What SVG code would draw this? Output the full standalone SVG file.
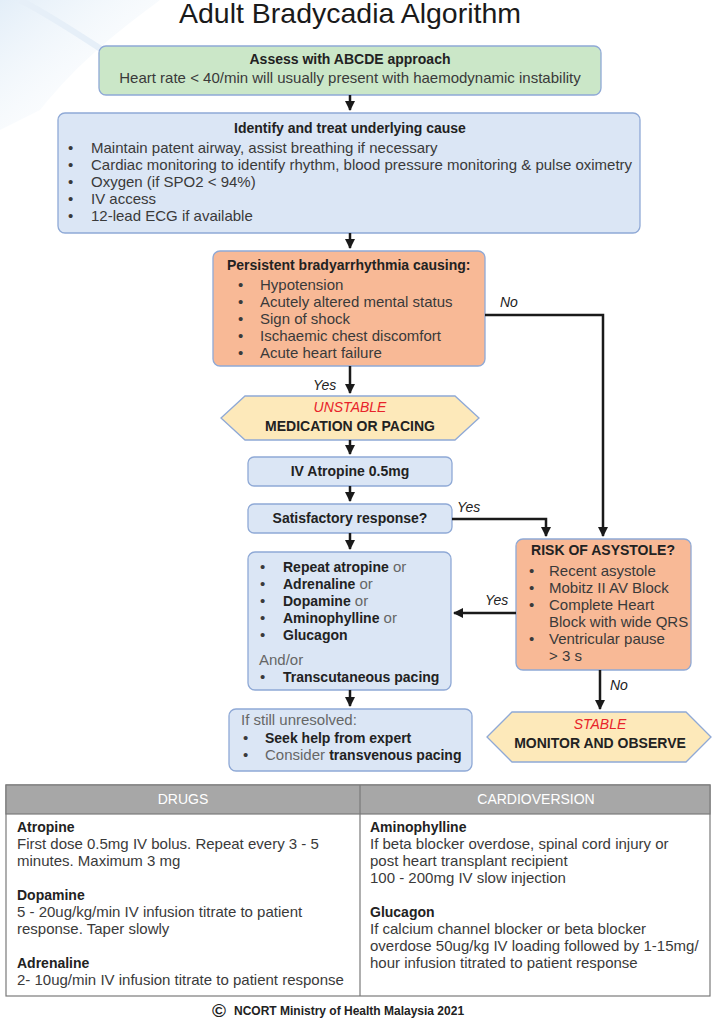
<svg xmlns="http://www.w3.org/2000/svg" width="715" height="1024" viewBox="0 0 715 1024">
<defs>
<marker id="ah" viewBox="0 0 10 10" refX="9" refY="5" markerWidth="4.4" markerHeight="4" orient="auto" markerUnits="strokeWidth">
<path d="M0,0 L10,5 L0,10 Z" fill="#1a1a1a"/>
</marker>
<linearGradient id="bg" x1="0" y1="0" x2="1" y2="1">
<stop offset="0" stop-color="#e3eef8"/>
<stop offset="1" stop-color="#ffffff" stop-opacity="0"/>
</linearGradient>
</defs>
<style>
text{font-family:"Liberation Sans",Arial,sans-serif;font-size:15px;fill:#3a3a3a}
.t{font-size:28px;fill:#1a1a1a}
.b{font-weight:bold;fill:#222;font-size:14px}
.c{text-anchor:middle}
.r{fill:#e8232a;font-style:italic;font-size:14px}
.i{font-style:italic;fill:#222;font-size:14px}
.g{fill:#666}
.h{fill:#fff;font-size:14px}
.box{stroke:#8fa9d6;stroke-width:1.3}
.blue{fill:#dbe6f5}
.org{fill:#f8b996}
.grn{fill:#cbe7c8}
.hex{fill:#fde9ba;stroke:#8fa9d6;stroke-width:1.3}
.ln{fill:none;stroke:#1a1a1a;stroke-width:2.5}
</style>
<rect width="715" height="1024" fill="#fff"/>
<path d="M0,0 L160,0 C120,30 80,60 40,110 L0,130 Z" fill="url(#bg)"/>
<path d="M20,0 C60,20 100,50 150,80" fill="none" stroke="#e6eff8" stroke-width="6"/>

<text class="t c" x="350" y="23" textLength="342" lengthAdjust="spacingAndGlyphs">Adult Bradycadia Algorithm</text>

<g id="assess">
<rect class="box grn" x="99" y="46" width="502" height="49" rx="7"/>
<text class="b c" x="350" y="64">Assess with ABCDE approach</text>
<text class="c" x="350" y="83">Heart rate &lt; 40/min will usually present with haemodynamic instability</text>
</g>

<g id="identify">
<rect class="box blue" x="58" y="113" width="582" height="120" rx="7"/>
<text class="b c" x="350" y="133">Identify and treat underlying cause</text>
<text x="68" y="153">•</text><text x="91" y="153">Maintain patent airway, assist breathing if necessary</text>
<text x="68" y="170">•</text><text x="91" y="170">Cardiac monitoring to identify rhythm, blood pressure monitoring &amp; pulse oximetry</text>
<text x="68" y="187">•</text><text x="91" y="187">Oxygen (if SPO2 &lt; 94%)</text>
<text x="68" y="204">•</text><text x="91" y="204">IV access</text>
<text x="68" y="221">•</text><text x="91" y="221">12-lead ECG if available</text>
</g>

<g id="persistent">
<rect class="box org" x="213" y="251" width="272" height="115" rx="7"/>
<text class="b" x="227" y="270">Persistent bradyarrhythmia causing:</text>
<text x="238" y="290">•</text><text x="260" y="290">Hypotension</text>
<text x="238" y="307">•</text><text x="260" y="307">Acutely altered mental status</text>
<text x="238" y="324">•</text><text x="260" y="324">Sign of shock</text>
<text x="238" y="341">•</text><text x="260" y="341">Ischaemic chest discomfort</text>
<text x="238" y="358">•</text><text x="260" y="358">Acute heart failure</text>
</g>

<g id="unstable">
<polygon class="hex" points="221,418 245,396 455,396 479,418 455,440 245,440"/>
<text class="r c" x="350" y="412">UNSTABLE</text>
<text class="b c" x="350" y="431">MEDICATION OR PACING</text>
</g>

<g id="atropine">
<rect class="box blue" x="248" y="457" width="204" height="29" rx="6"/>
<text class="b c" x="350" y="476">IV Atropine 0.5mg</text>
</g>

<g id="satisfactory">
<rect class="box blue" x="248" y="504" width="204" height="29" rx="6"/>
<text class="b c" x="350" y="523">Satisfactory response?</text>
</g>

<g id="drugsbox">
<rect class="box blue" x="248" y="552" width="203" height="138" rx="7"/>
<text x="260" y="572">•</text><text x="283" y="572"><tspan class="b">Repeat atropine</tspan><tspan class="g"> or</tspan></text>
<text x="260" y="589">•</text><text x="283" y="589"><tspan class="b">Adrenaline</tspan><tspan class="g"> or</tspan></text>
<text x="260" y="606">•</text><text x="283" y="606"><tspan class="b">Dopamine</tspan><tspan class="g"> or</tspan></text>
<text x="260" y="623">•</text><text x="283" y="623"><tspan class="b">Aminophylline</tspan><tspan class="g"> or</tspan></text>
<text x="260" y="640">•</text><text class="b" x="283" y="640">Glucagon</text>
<text class="g" x="259" y="665">And/or</text>
<text x="260" y="682">•</text><text class="b" x="283" y="682">Transcutaneous pacing</text>
</g>

<g id="risk">
<rect class="box org" x="516" y="539" width="175" height="131" rx="7"/>
<text class="b c" x="603" y="555">RISK OF ASYSTOLE?</text>
<text x="529" y="576">•</text><text x="549" y="576">Recent asystole</text>
<text x="529" y="593">•</text><text x="549" y="593">Mobitz II AV Block</text>
<text x="529" y="610">•</text><text x="549" y="610">Complete Heart</text>
<text x="549" y="627">Block with wide QRS</text>
<text x="529" y="644">•</text><text x="549" y="644">Ventricular pause</text>
<text x="549" y="661">&gt; 3 s</text>
</g>

<g id="stable">
<polygon class="hex" points="487,737 512,712 686,712 711,737 686,762 512,762"/>
<text class="r c" x="600" y="729">STABLE</text>
<text class="b c" x="600" y="748">MONITOR AND OBSERVE</text>
</g>

<g id="unresolved">
<rect class="box blue" x="229" y="709" width="243" height="62" rx="7"/>
<text class="g" x="241" y="725">If still unresolved:</text>
<text x="243" y="743">•</text><text class="b" x="265" y="743">Seek help from expert</text>
<text x="243" y="760">•</text><text x="265" y="760"><tspan class="g">Consider </tspan><tspan class="b">transvenous pacing</tspan></text>
</g>

<g id="connectors">
<line class="ln" x1="350" y1="95" x2="350" y2="110" marker-end="url(#ah)"/>
<line class="ln" x1="350" y1="233" x2="350" y2="248" marker-end="url(#ah)"/>
<line class="ln" x1="350" y1="366" x2="350" y2="393" marker-end="url(#ah)"/>
<line class="ln" x1="350" y1="440" x2="350" y2="454" marker-end="url(#ah)"/>
<line class="ln" x1="350" y1="486" x2="350" y2="501" marker-end="url(#ah)"/>
<line class="ln" x1="350" y1="533" x2="350" y2="549" marker-end="url(#ah)"/>
<line class="ln" x1="350" y1="690" x2="350" y2="706" marker-end="url(#ah)"/>
<polyline class="ln" points="485,315 603,315 603,536" marker-end="url(#ah)"/>
<polyline class="ln" points="452,519 546,519 546,536" marker-end="url(#ah)"/>
<line class="ln" x1="516" y1="613" x2="454" y2="613" marker-end="url(#ah)"/>
<line class="ln" x1="600" y1="670" x2="600" y2="709" marker-end="url(#ah)"/>
<text class="i" x="500" y="307">No</text>
<text class="i" x="313" y="390">Yes</text>
<text class="i" x="457" y="512">Yes</text>
<text class="i" x="485" y="605">Yes</text>
<text class="i" x="610" y="690">No</text>
</g>

<g id="table">
<rect x="6" y="785" width="704" height="211" fill="#fff" stroke="#7a7a7a" stroke-width="1.2"/>
<rect x="6" y="785" width="704" height="29" fill="#a7a7a7" stroke="#7a7a7a" stroke-width="1.2"/>
<line x1="360" y1="785" x2="360" y2="996" stroke="#7a7a7a" stroke-width="1.2"/>
<text class="h c" x="183" y="804">DRUGS</text>
<text class="h c" x="536" y="804">CARDIOVERSION</text>
<text class="b" x="17" y="832">Atropine</text>
<text x="17" y="849">First dose 0.5mg IV bolus. Repeat every 3 - 5</text>
<text x="17" y="866">minutes. Maximum 3 mg</text>
<text class="b" x="17" y="900">Dopamine</text>
<text x="17" y="917">5 - 20ug/kg/min IV infusion titrate to patient</text>
<text x="17" y="934">response. Taper slowly</text>
<text class="b" x="17" y="968">Adrenaline</text>
<text x="17" y="985">2- 10ug/min IV infusion titrate to patient response</text>
<text class="b" x="370" y="832">Aminophylline</text>
<text x="370" y="849">If beta blocker overdose, spinal cord injury or</text>
<text x="370" y="866">post heart transplant recipient</text>
<text x="370" y="883">100 - 200mg IV slow injection</text>
<text class="b" x="370" y="917">Glucagon</text>
<text x="370" y="934">If calcium channel blocker or beta blocker</text>
<text x="370" y="951">overdose 50ug/kg IV loading followed by 1-15mg/</text>
<text x="370" y="968">hour infusion titrated to patient response</text>
</g>

<g id="footer">
<text class="b" x="212" y="1017" style="font-size:19px">©</text>
<text class="b" x="234" y="1015" style="font-size:12px">NCORT Ministry of Health Malaysia 2021</text>
</g>
</svg>
